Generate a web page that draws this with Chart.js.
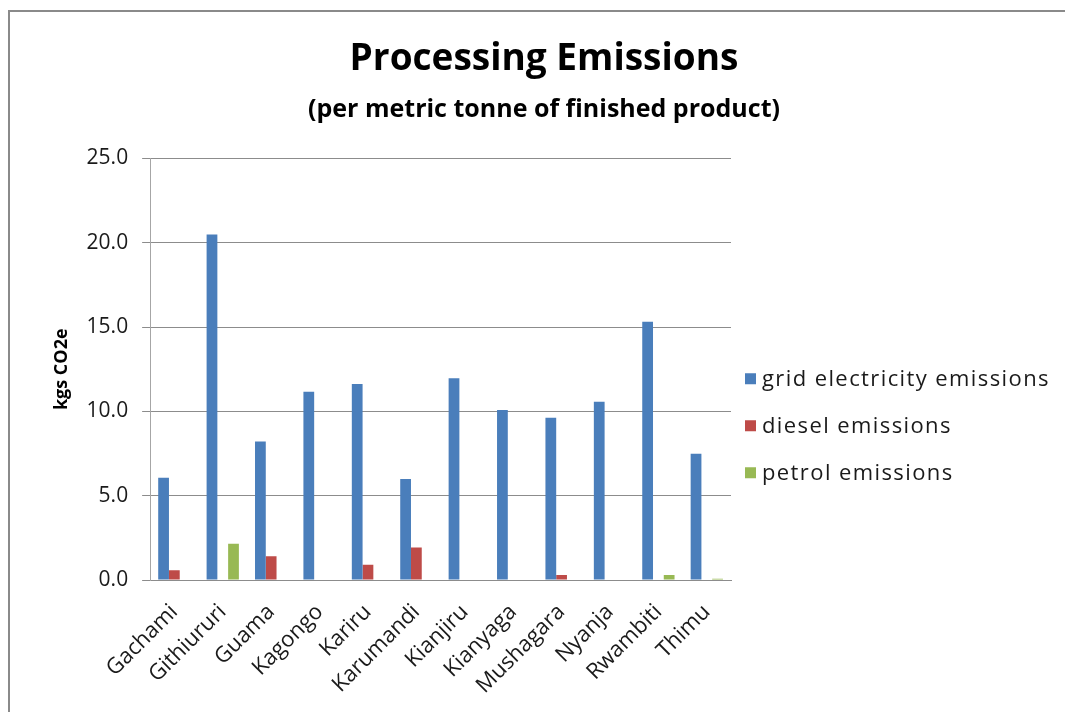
<!DOCTYPE html>
<html>
<head>
<meta charset="utf-8">
<script src="https://cdn.jsdelivr.net/npm/chart.js@4.4.1/dist/chart.umd.min.js"></script>
<style>
    html, body { margin: 0; padding: 0; background: #fff; overflow: hidden; }
    #frame {
        position: absolute; left: 8px; top: 10px; width: 1200px; height: 800px;
        border-left: 2px solid #8a8a8a; border-top: 2px solid #8a8a8a;
    }
    #wrap { position: absolute; left: 0; top: 0; width: 1065px; height: 712px; }
</style>
</head>
<body>
<div id="frame"></div>
<div id="wrap"><canvas id="emissionsChart" width="1065" height="712"></canvas></div>
<script>
const mills = ['Gachami', 'Githiururi', 'Guama', 'Kagongo', 'Kariru', 'Karumandi',
    'Kianjiru', 'Kianyaga', 'Mushagara', 'Nyanja', 'Rwambiti', 'Thimu'];
const gridEmissions = [6.07, 20.49, 8.22, 11.17, 11.62, 5.99, 11.97, 10.08, 9.63, 10.57, 15.32, 7.49];
const dieselEmissions = [0.59, 0, 1.42, 0, 0.91, 1.94, 0, 0, 0.30, 0, 0, 0];
const petrolEmissions = [0, 2.16, 0, 0, 0, 0, 0, 0, 0, 0, 0.30, 0.08];
const seriesNames = ['grid electricity emissions', 'diesel emissions', 'petrol emissions'];
const yTicks = [0, 5, 10, 15, 20, 25];

const FONT = '"Open Sans", Lato, sans-serif';

// legend drawn by hand so the spacing can match the original
const sideLegend = {
    id: 'sideLegend',
    afterDraw(chart) {
        const ctx = chart.ctx;
        const area = chart.chartArea;
        const x = area.right + 14;
        let y = (area.top + area.bottom) / 2 + 9;
        ctx.save();
        ctx.font = '22px ' + FONT;
        ctx.letterSpacing = '1.4px';
        ctx.textBaseline = 'middle';
        chart.data.datasets.forEach(ds => {
            ctx.fillStyle = ds.backgroundColor;
            ctx.fillRect(x, y - 5, 11, 11);
            ctx.fillStyle = '#1a1a1a';
            ctx.fillText(ds.label, x + 17, y + 1);
            y += 47;
        });
        ctx.restore();
    }
};

const ctx = document.getElementById('emissionsChart').getContext('2d');
const chart = new Chart(ctx, {
    type: 'bar',
    data: {
        labels: mills,
        datasets: [
            { label: seriesNames[0], data: gridEmissions, backgroundColor: '#4a7ebb' },
            { label: seriesNames[1], data: dieselEmissions, backgroundColor: '#be4b48' },
            { label: seriesNames[2], data: petrolEmissions, backgroundColor: '#98b954' }
        ]
    },
    options: {
        responsive: false,
        devicePixelRatio: 1,
        animation: false,
        layout: { padding: { left: 23, right: 0, top: 0, bottom: 2 } },
        datasets: {
            bar: { categoryPercentage: 0.667, barPercentage: 1.0, borderWidth: 0 }
        },
        plugins: {
            legend: { display: false },
            tooltip: { enabled: false },
            title: {
                display: true,
                text: 'Processing Emissions',
                color: '#000',
                font: { family: FONT, size: 37, weight: 'bold', lineHeight: 1.2 },
                padding: { top: 37, bottom: 0 }
            },
            subtitle: {
                display: true,
                text: '(per metric tonne of finished product)',
                color: '#000',
                font: { family: FONT, size: 25, weight: 'bold', lineHeight: 1.2 },
                padding: { top: 13, bottom: 34 }
            }
        },
        scales: {
            x: {
                grid: { display: false },
                border: { display: true, color: '#8c8c8c', width: 1 },
                ticks: {
                    color: '#1a1a1a',
                    font: { family: FONT, size: 22 },
                    minRotation: 45,
                    maxRotation: 45,
                    padding: 11
                }
            },
            y: {
                min: 0,
                max: 25,
                afterBuildTicks: axis => { axis.ticks = yTicks.map(v => ({ value: v })); },
                grid: { color: '#8c8c8c', lineWidth: 1, tickLength: 8 },
                border: { color: '#a6a6a6', width: 1 },
                ticks: {
                    color: '#1a1a1a',
                    font: { family: FONT, size: 21 },
                    padding: 14,
                    callback: v => Number(v).toFixed(1)
                },
                title: {
                    display: true,
                    text: 'kgs CO2e',
                    color: '#000',
                    font: { family: FONT, size: 18, weight: 'bold', lineHeight: 1.2 },
                    padding: { top: 28, bottom: 0 }
                }
            },
            // empty right-hand axis that only keeps room for the legend
            legendSpace: {
                type: 'linear',
                position: 'right',
                grid: { display: false },
                border: { display: false },
                ticks: { display: false },
                afterFit: axis => { axis.width = 334; }
            }
        }
    },
    plugins: [sideLegend]
});
</script>
</body>
</html>
